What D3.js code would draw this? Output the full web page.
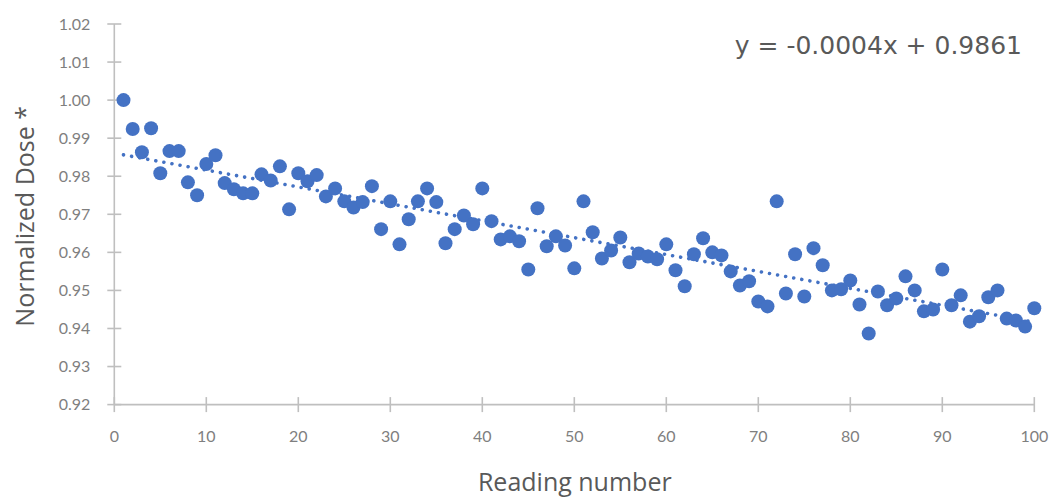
<!DOCTYPE html>
<html>
<head>
<meta charset="utf-8">
<script src="https://cdn.jsdelivr.net/npm/d3@7/dist/d3.min.js"></script>
<style>
  html, body { margin: 0; padding: 0; background: #ffffff; }
  svg { display: block; }
</style>
</head>
<body>
<svg id="chart" width="1059" height="502"></svg>
<script>
// Reading number of each measurement
const readings = [
  1, 2, 3, 4, 5, 6, 7, 8, 9, 10,
  11, 12, 13, 14, 15, 16, 17, 18, 19, 20,
  21, 22, 23, 24, 25, 26, 27, 28, 29, 30,
  31, 32, 33, 34, 35, 36, 37, 38, 39, 40,
  41, 42, 43, 44, 45, 46, 47, 48, 49, 50,
  51, 52, 53, 54, 55, 56, 57, 58, 59, 60,
  61, 62, 63, 64, 65, 66, 67, 68, 69, 70,
  71, 72, 73, 74, 75, 76, 77, 78, 79, 80,
  81, 82, 83, 84, 85, 86, 87, 88, 89, 90,
  91, 92, 93, 94, 95, 96, 97, 98, 99, 100
];

// Dose normalised to the first reading
const normalizedDose = [
  1.0000, 0.9924, 0.9863, 0.9926, 0.9808, 0.9866, 0.9866, 0.9784, 0.9750, 0.9832,
  0.9855, 0.9782, 0.9766, 0.9755, 0.9755, 0.9805, 0.9789, 0.9826, 0.9713, 0.9808,
  0.9787, 0.9803, 0.9747, 0.9768, 0.9734, 0.9718, 0.9732, 0.9774, 0.9661, 0.9734,
  0.9621, 0.9687, 0.9734, 0.9768, 0.9732, 0.9624, 0.9661, 0.9697, 0.9674, 0.9768,
  0.9682, 0.9634, 0.9642, 0.9629, 0.9555, 0.9716, 0.9616, 0.9642, 0.9618, 0.9558,
  0.9734, 0.9653, 0.9584, 0.9605, 0.9639, 0.9574, 0.9597, 0.9589, 0.9582, 0.9621,
  0.9553, 0.9511, 0.9595, 0.9637, 0.9600, 0.9592, 0.9550, 0.9513, 0.9524, 0.9471,
  0.9458, 0.9734, 0.9492, 0.9595, 0.9484, 0.9611, 0.9566, 0.9500, 0.9503, 0.9526,
  0.9463, 0.9387, 0.9497, 0.9461, 0.9479, 0.9537, 0.9500, 0.9445, 0.9450, 0.9555,
  0.9461, 0.9487, 0.9418, 0.9432, 0.9482, 0.9500, 0.9426, 0.9421, 0.9405, 0.9453
];

// Axis ticks
const xTicks = [0, 10, 20, 30, 40, 50, 60, 70, 80, 90, 100];
const yTicks = [0.92, 0.93, 0.94, 0.95, 0.96, 0.97, 0.98, 0.99, 1.00, 1.01, 1.02];

// Text
const xTitle = "Reading number";
const yTitle = "Normalized Dose *";
const equationText = "y = -0.0004x + 0.9861";

const svg = d3.select("#chart");
const W = 1059, H = 502;

svg.append("rect").attr("width", W).attr("height", H).attr("fill", "#ffffff");

const x = d3.scaleLinear().domain([0, 100]).range([114.3, 1034.3]);
const y = d3.scaleLinear().domain([0.92, 1.02]).range([404.6, 24]);

const axisColor = "#bfbfbf";
const tickTextColor = "#7f7f7f";
const titleColor = "#595959";
const titleFont = "'Open Sans', 'Noto Sans', sans-serif";
const tickFont = "Lato, 'Open Sans', sans-serif";

// Y axis: line with cross ticks
const yAxisG = svg.append("g").attr("transform", `translate(${x(0)},0)`);
yAxisG.append("line")
  .attr("x1", 0).attr("x2", 0)
  .attr("y1", y(1.02)).attr("y2", y(0.92))
  .attr("stroke", axisColor).attr("stroke-width", 1.6);
yAxisG.selectAll("line.tick").data(yTicks).enter().append("line")
  .attr("class", "tick")
  .attr("x1", -7).attr("x2", 7)
  .attr("y1", d => y(d)).attr("y2", d => y(d))
  .attr("stroke", axisColor).attr("stroke-width", 1.6);
yAxisG.selectAll("text").data(yTicks).enter().append("text")
  .attr("x", -24).attr("y", d => y(d))
  .attr("dy", "0.36em")
  .attr("text-anchor", "end")
  .attr("fill", tickTextColor)
  .style("font-family", tickFont)
  .style("font-size", "16px")
  .text(d => d3.format(".2f")(d));

// X axis: line with cross ticks
const xAxisG = svg.append("g").attr("transform", `translate(0,${y(0.92)})`);
xAxisG.append("line")
  .attr("x1", x(0)).attr("x2", x(100))
  .attr("y1", 0).attr("y2", 0)
  .attr("stroke", axisColor).attr("stroke-width", 1.6);
xAxisG.selectAll("line.tick").data(xTicks).enter().append("line")
  .attr("class", "tick")
  .attr("x1", d => x(d)).attr("x2", d => x(d))
  .attr("y1", -7.5).attr("y2", 7.5)
  .attr("stroke", axisColor).attr("stroke-width", 1.6);
xAxisG.selectAll("text").data(xTicks).enter().append("text")
  .attr("x", d => x(d)).attr("y", 37)
  .attr("text-anchor", "middle")
  .attr("fill", tickTextColor)
  .style("font-family", tickFont)
  .style("font-size", "16px")
  .text(d => d);

// Least-squares trendline over the readings
const points = readings.map((r, i) => ({ r, v: normalizedDose[i] }));
const mx = d3.mean(points, d => d.r);
const my = d3.mean(points, d => d.v);
const sxy = d3.sum(points, d => (d.r - mx) * (d.v - my));
const sxx = d3.sum(points, d => (d.r - mx) * (d.r - mx));
const slope = sxy / sxx;
const intercept = my - slope * mx;
const xExtent = d3.extent(readings);
const trend = xExtent.map(r => ({ r, v: intercept + slope * r }));

svg.append("path")
  .datum(trend)
  .attr("d", d3.line().x(d => x(d.r)).y(d => y(d.v)))
  .attr("fill", "none")
  .attr("stroke", "#4472c4")
  .attr("stroke-width", 3.6)
  .attr("stroke-linecap", "round")
  .attr("stroke-dasharray", "0.01 8.2");

// Data points
svg.append("g").selectAll("circle").data(points).enter().append("circle")
  .attr("cx", d => x(d.r))
  .attr("cy", d => y(d.v))
  .attr("r", 7)
  .attr("fill", "#4472c4");

// Trendline equation
svg.append("text")
  .attr("x", 1022).attr("y", 54)
  .attr("text-anchor", "end")
  .attr("fill", titleColor)
  .style("font-family", "'DejaVu Sans', sans-serif")
  .style("font-size", "25px")
  .text(equationText);

// Axis titles
svg.append("text")
  .attr("x", x(50) + 0.5).attr("y", 491)
  .attr("text-anchor", "middle")
  .attr("fill", titleColor)
  .style("font-family", titleFont)
  .style("font-size", "25px")
  .text(xTitle);

svg.append("text")
  .attr("transform", `translate(34,${(y(0.92) + y(1.02)) / 2 + 2}) rotate(-90)`)
  .attr("text-anchor", "middle")
  .attr("fill", titleColor)
  .style("font-family", titleFont)
  .style("font-size", "25px")
  .text(yTitle);
</script>
</body>
</html>
